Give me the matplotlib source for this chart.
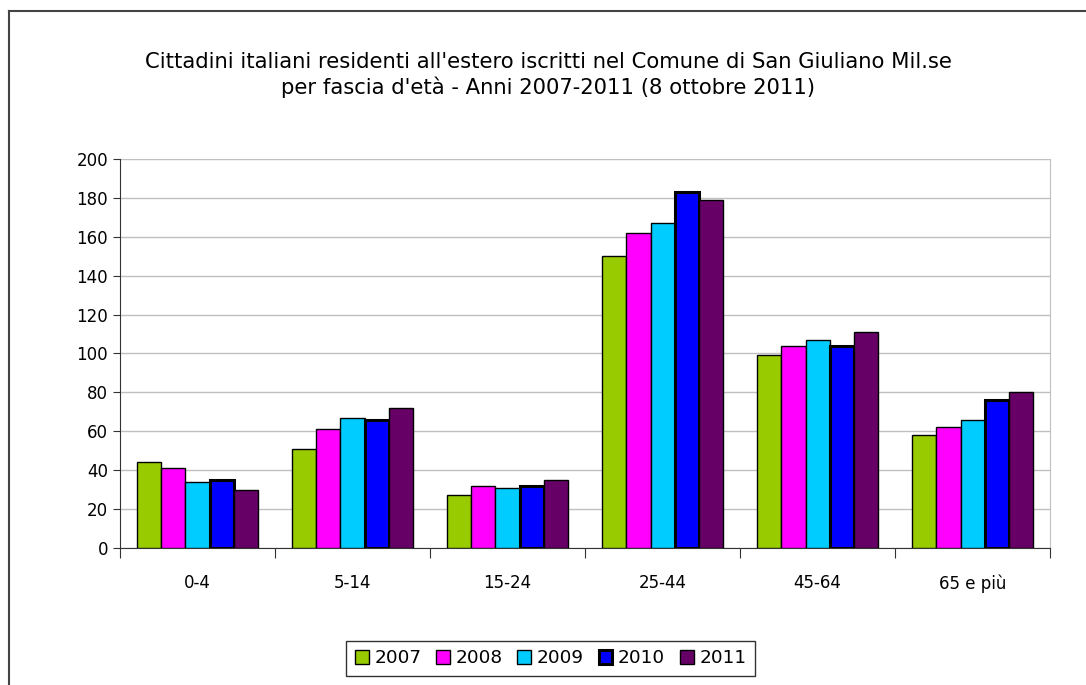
import numpy as np
import matplotlib.pyplot as plt
from matplotlib.lines import Line2D

# fasce d'età e anni
fasce = ['0-4', '5-14', '15-24', '25-44', '45-64', '65 e più']
anni = ['2007', '2008', '2009', '2010', '2011']

v2007 = [44, 51, 27, 150, 99, 58]
v2008 = [41, 61, 32, 162, 104, 62]
v2009 = [34, 67, 31, 167, 107, 66]
v2010 = [35, 66, 32, 183, 104, 76]
v2011 = [30, 72, 35, 179, 111, 80]

serie = [v2007, v2008, v2009, v2010, v2011]
colori = ['#99CC00', '#FF00FF', '#00CCFF', '#0000FF', '#660066']
bordi = [1.0, 1.0, 1.0, 2.2, 1.0]

plt.rcParams['font.family'] = ['DejaVu Sans']

fig = plt.figure(figsize=(10.86, 6.85), dpi=100)
ax = fig.add_axes([0.1105, 0.2, 0.8565, 0.568])

x = np.arange(len(fasce))
w = 0.156
for i, (vals, c) in enumerate(zip(serie, colori)):
    ax.bar(x + (i - 2) * w, vals, w, color=c, edgecolor='black',
           linewidth=bordi[i], label=anni[i], zorder=3)

ax.set_xlim(-0.5, len(fasce) - 0.5)
ax.set_ylim(0, 200)
ax.set_yticks(range(0, 201, 20))
ax.yaxis.grid(True, color='#c0c0c0', linewidth=1, zorder=0)
ax.set_xticks(np.arange(-0.5, len(fasce), 1), minor=False)
ax.set_xticklabels([])
ax.set_xticks(x, minor=True)
ax.set_xticklabels(fasce, minor=True)
ax.tick_params(axis='x', which='major', length=7, direction='out', color='#333333')
ax.tick_params(axis='x', which='minor', length=0, pad=19, labelsize=12)
ax.tick_params(axis='y', length=5, direction='out', labelsize=12, color='#333333')
ax.spines['top'].set_visible(False)
ax.spines['right'].set_color('#c0c0c0')
ax.spines['left'].set_color('#333333')
ax.spines['bottom'].set_color('#333333')

fig.text(0.505, 0.89, "Cittadini italiani residenti all'estero iscritti nel Comune di San Giuliano Mil.se\n"
         "per fascia d'età - Anni 2007-2011 (8 ottobre 2011)",
         ha='center', va='center', fontsize=15.2, linespacing=1.25)

handles, labels = ax.get_legend_handles_labels()
leg = fig.legend(handles, labels, loc='center', bbox_to_anchor=(0.507, 0.039), ncol=5,
                 frameon=True, fancybox=False, edgecolor='black', fontsize=13.3,
                 handlelength=0.75, handleheight=0.75, handletextpad=0.3,
                 columnspacing=0.8, borderpad=0.45)
leg.get_frame().set_linewidth(1.0)

# cornice esterna (solo lati sinistro e superiore visibili)
fig.add_artist(Line2D([0.0083, 0.0083], [0, 1 - 11 / 685], color='#444444', lw=1.5,
                      transform=fig.transFigure))
fig.add_artist(Line2D([0.0083, 1], [1 - 11 / 685, 1 - 11 / 685], color='#444444', lw=1.5,
                      transform=fig.transFigure))

fig.savefig('out.png', dpi=100)
